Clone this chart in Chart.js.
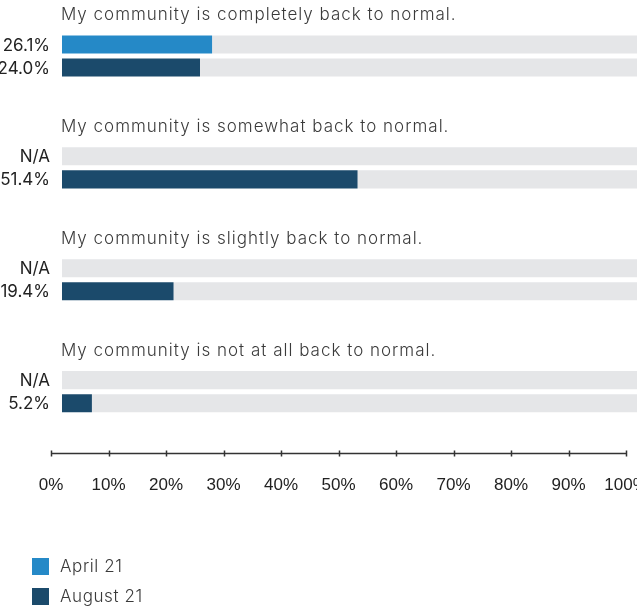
<!DOCTYPE html>
<html>
<head>
<meta charset="utf-8">
<script src="https://cdn.jsdelivr.net/npm/chart.js@4.4.1/dist/chart.umd.min.js"></script>
<style>
    html, body {
        margin: 0;
        padding: 0;
        background: #fff;
    }
    .chart-box {
        width: 637px;
        height: 608px;
        position: relative;
    }
</style>
</head>
<body>
<div class="chart-box">
    <canvas id="normalChart"></canvas>
</div>
<script>
const statements = [
    "My community is completely back to normal.",
    "My community is somewhat back to normal.",
    "My community is slightly back to normal.",
    "My community is not at all back to normal."
];
const april21 = [26.1, null, null, null];
const august21 = [24.0, 51.4, 19.4, 5.2];
const fullTrack = [100, 100, 100, 100];
const axisTicks = [0, 10, 20, 30, 40, 50, 60, 70, 80, 90, 100];

const APRIL_COLOR = "#2589c7";
const AUGUST_COLOR = "#1b4a6b";
const TRACK_COLOR = "#e5e6e8";
const TEXT_FONT = "Inter, 'Noto Sans', sans-serif";

// labels, statement titles, axis line and legend drawn on top of the bars
const overlayPlugin = {
    id: "overlay",
    afterDraw(chart) {
        const { ctx, chartArea, scales } = chart;
        const xb = scales.xb;
        const x = scales.x;
        const y = scales.y;

        ctx.save();

        // statement above each pair of bars
        ctx.font = "300 17px " + TEXT_FONT;
        ctx.letterSpacing = "1px";
        ctx.fillStyle = "#3a3a3a";
        ctx.textAlign = "left";
        ctx.textBaseline = "middle";
        statements.forEach((text, i) => {
            ctx.fillText(text, xb.getPixelForValue(0) - 1, y.getPixelForValue(i) - 41);
        });

        // value (or N/A) to the left of each bar
        ctx.font = "400 17px " + TEXT_FONT;
        ctx.letterSpacing = "0px";
        ctx.fillStyle = "#222";
        ctx.textAlign = "right";
        [0, 1].forEach(dsIndex => {
            const meta = chart.getDatasetMeta(dsIndex);
            const values = chart.data.datasets[dsIndex].data;
            meta.data.forEach((bar, i) => {
                const v = values[i];
                const text = v == null ? "N/A" : v.toFixed(1) + "%";
                ctx.fillText(text, xb.getPixelForValue(0) - 12, bar.y + 1);
            });
        });

        // axis line with small crossing ticks
        const axisY = chartArea.bottom + 6;
        ctx.strokeStyle = "#333";
        ctx.lineWidth = 1.5;
        ctx.beginPath();
        ctx.moveTo(x.getPixelForValue(axisTicks[0]), axisY);
        ctx.lineTo(x.getPixelForValue(axisTicks[axisTicks.length - 1]), axisY);
        axisTicks.forEach(t => {
            const px = Math.round(x.getPixelForValue(t)) + 0.5;
            ctx.moveTo(px, axisY - 3);
            ctx.lineTo(px, axisY + 3);
        });
        ctx.stroke();

        // legend
        ctx.font = "300 17px " + TEXT_FONT;
        ctx.letterSpacing = "0.6px";
        ctx.textAlign = "left";
        [0, 1].forEach((dsIndex, k) => {
            const ds = chart.data.datasets[dsIndex];
            const top = 558 + k * 30;
            ctx.fillStyle = ds.backgroundColor;
            ctx.fillRect(32, top, 17, 17);
            ctx.fillStyle = "#3a3a3a";
            ctx.fillText(ds.label, 60, top + 9);
        });

        ctx.restore();
    }
};

const ctx = document.getElementById("normalChart").getContext("2d");

new Chart(ctx, {
    type: "bar",
    data: {
        labels: statements,
        datasets: [
            {
                label: "April 21",
                data: april21,
                backgroundColor: APRIL_COLOR,
                stack: "apr",
                xAxisID: "xb",
                order: 1
            },
            {
                label: "August 21",
                data: august21,
                backgroundColor: AUGUST_COLOR,
                stack: "aug",
                xAxisID: "xb",
                order: 1
            },
            {
                label: "track-apr",
                data: fullTrack,
                backgroundColor: TRACK_COLOR,
                stack: "apr",
                xAxisID: "xb",
                order: 2
            },
            {
                label: "track-aug",
                data: fullTrack,
                backgroundColor: TRACK_COLOR,
                stack: "aug",
                xAxisID: "xb",
                order: 2
            }
        ]
    },
    options: {
        indexAxis: "y",
        responsive: true,
        maintainAspectRatio: false,
        animation: false,
        categoryPercentage: 0.412,
        barPercentage: 0.783,
        layout: {
            padding: { left: 51, right: 0, top: 0, bottom: 84 }
        },
        plugins: {
            legend: { display: false },
            tooltip: { enabled: false }
        },
        scales: {
            y: {
                display: false,
                offset: true
            },
            xb: {
                type: "linear",
                display: false,
                min: -1.913,
                max: 100
            },
            x: {
                type: "linear",
                position: "bottom",
                min: 0,
                max: 101.9,
                grid: { display: false, drawTicks: false },
                border: { display: false },
                ticks: {
                    stepSize: 10,
                    padding: 28,
                    color: "#222",
                    font: { family: "'Liberation Sans', Arial, sans-serif", size: 17 },
                    callback: value => value + "%"
                },
                afterBuildTicks(scale) {
                    scale.ticks = axisTicks.map(value => ({ value }));
                },
                afterFit(scale) {
                    scale.paddingLeft = 0;
                    scale.paddingRight = 0;
                }
            }
        }
    },
    plugins: [overlayPlugin]
});
</script>
</body>
</html>
